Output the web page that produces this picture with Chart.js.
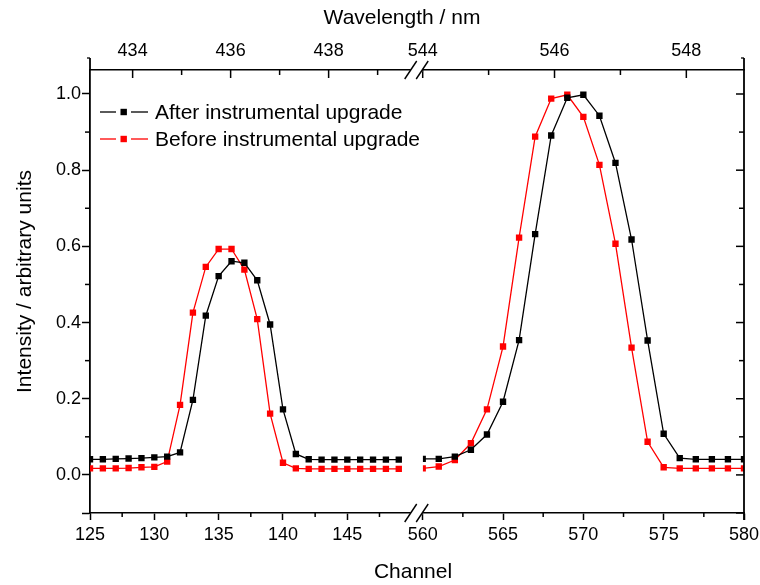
<!DOCTYPE html>
<html>
<head>
<meta charset="utf-8">
<script src="https://cdn.jsdelivr.net/npm/chart.js@4.4.1/dist/chart.umd.min.js"></script>
<style>
  html, body { margin: 0; padding: 0; background: #fff; }
  #wrap { width: 760px; height: 585px; }
</style>
</head>
<body>
<div id="wrap"><canvas id="spectrumChart"></canvas></div>
<script>
// Channels on each side of the axis break
const leftChannels = [125, 126, 127, 128, 129, 130, 131, 132, 133, 134, 135, 136, 137,
                      138, 139, 140, 141, 142, 143, 144, 145, 146, 147, 148, 149];
const rightChannels = [560, 561, 562, 563, 564, 565, 566, 567, 568, 569, 570,
                       571, 572, 573, 574, 575, 576, 577, 578, 579, 580];

const seriesNames = ['After instrumental upgrade', 'Before instrumental upgrade'];
const seriesColors = ['#000000', '#ff0000'];

// Normalised intensities
const afterLeft = [0.041, 0.041, 0.042, 0.043, 0.044, 0.046, 0.048, 0.059, 0.197, 0.418, 0.522, 0.561, 0.557,
                   0.511, 0.395, 0.172, 0.055, 0.041, 0.040, 0.040, 0.040, 0.040, 0.040, 0.040, 0.040];
const beforeLeft = [0.017, 0.017, 0.017, 0.018, 0.020, 0.021, 0.035, 0.184, 0.426, 0.546, 0.593, 0.593, 0.539,
                    0.409, 0.161, 0.032, 0.017, 0.016, 0.016, 0.016, 0.016, 0.016, 0.016, 0.016, 0.016];
const afterRight = [0.042, 0.042, 0.048, 0.066, 0.106, 0.192, 0.354, 0.632, 0.891, 0.990, 0.998,
                    0.943, 0.819, 0.618, 0.353, 0.108, 0.044, 0.041, 0.041, 0.041, 0.041];
const beforeRight = [0.017, 0.022, 0.039, 0.083, 0.172, 0.337, 0.623, 0.888, 0.988, 0.998, 0.940,
                     0.814, 0.607, 0.334, 0.087, 0.020, 0.017, 0.017, 0.017, 0.017, 0.017];

// Tick positions
const leftChTicks = [125, 130, 135, 140, 145];
const rightChTicks = [560, 565, 570, 575, 580];
const leftChMinor = [127.5, 132.5, 137.5, 142.5, 147.5];
const rightChMinor = [562.5, 567.5, 572.5, 577.5];
const leftNmTicks = [434, 436, 438];
const rightNmTicks = [544, 546, 548];
const leftNmMinor = [435, 437, 439];
const rightNmMinor = [545, 547];
const yTicks = [-0.1, 0, 0.2, 0.4, 0.6, 0.8, 1.0];
const yMinor = [0.1, 0.3, 0.5, 0.7, 0.9];

const FONT = "'Liberation Sans', Arial, sans-serif";

function points(xs, ys) {
    return xs.map((x, i) => ({ x: x, y: ys[i] }));
}

function fixedTicks(list) {
    return scale => { scale.ticks = list.map(v => ({ value: v })); };
}

function bottomAxis(min, max, ticks, weight) {
    return {
        type: 'linear', position: 'bottom', stack: 'bottom', stackWeight: weight,
        min: min, max: max,
        afterBuildTicks: fixedTicks(ticks),
        afterFit: s => { s.height = 72; s.paddingLeft = 0; s.paddingRight = 0; },
        grid: { drawOnChartArea: false, tickLength: 7, tickWidth: 1.5, tickColor: '#000' },
        border: { display: true, color: '#000', width: 1.6 },
        ticks: {
            autoSkip: false, maxRotation: 0, padding: 4, color: '#000',
            font: { family: FONT, size: 18 },
            callback: v => String(v)
        }
    };
}

function topAxis(min, max, ticks, weight) {
    return {
        type: 'linear', axis: 'x', position: 'top', stack: 'top', stackWeight: weight,
        min: min, max: max,
        afterBuildTicks: fixedTicks(ticks),
        afterFit: s => { s.height = 70; s.paddingLeft = 0; s.paddingRight = 0; },
        grid: { drawOnChartArea: false, drawTicks: false },
        border: { display: true, color: '#000', width: 1.6 },
        ticks: {
            autoSkip: false, maxRotation: 0, padding: 8, color: '#000',
            font: { family: FONT, size: 18 },
            callback: v => String(v)
        }
    };
}

function lineSet(label, color, data, xAxis) {
    return {
        label: label, data: data, xAxisID: xAxis, yAxisID: 'y',
        borderColor: color, backgroundColor: color, borderWidth: 1.3,
        pointStyle: 'rect', pointRadius: 4.5, pointBorderWidth: 0,
        pointBackgroundColor: color, tension: 0, fill: false
    };
}

// Minor ticks, right/top inward ticks, break marks, titles and legend
const spectrumDecor = {
    id: 'spectrumDecor',
    beforeDatasetDraw(chart, args) {
        // keep each segment inside its own half of the broken axis
        const xs = chart.scales[args.meta.xAxisID];
        const a = chart.chartArea;
        chart.ctx.save();
        chart.ctx.beginPath();
        chart.ctx.rect(xs.left, a.top, xs.right - xs.left, a.bottom - a.top);
        chart.ctx.clip();
    },
    afterDatasetDraw(chart) {
        chart.ctx.restore();
    },
    afterDraw(chart) {
        const ctx = chart.ctx;
        const a = chart.chartArea;
        const s = chart.scales;
        ctx.save();
        ctx.strokeStyle = '#000';
        ctx.fillStyle = '#000';
        ctx.lineWidth = 1.5;

        function seg(x1, y1, x2, y2) {
            ctx.beginPath();
            ctx.moveTo(x1, y1);
            ctx.lineTo(x2, y2);
            ctx.stroke();
        }

        // bottom minor ticks (outward)
        leftChMinor.forEach(v => { const x = s.xL.getPixelForValue(v); seg(x, a.bottom, x, a.bottom + 4); });
        rightChMinor.forEach(v => { const x = s.xR.getPixelForValue(v); seg(x, a.bottom, x, a.bottom + 4); });

        // top ticks (inward)
        leftNmTicks.forEach(v => { const x = s.tL.getPixelForValue(v); seg(x, a.top, x, a.top + 8); });
        rightNmTicks.forEach(v => { const x = s.tR.getPixelForValue(v); seg(x, a.top, x, a.top + 8); });
        leftNmMinor.forEach(v => { const x = s.tL.getPixelForValue(v); seg(x, a.top, x, a.top + 5); });
        rightNmMinor.forEach(v => { const x = s.tR.getPixelForValue(v); seg(x, a.top, x, a.top + 5); });

        // left minor ticks (outward), right axis with inward ticks
        yMinor.forEach(v => { const y = s.y.getPixelForValue(v); seg(a.left - 5, y, a.left, y); });
        yTicks.forEach(v => { const y = s.y.getPixelForValue(v); seg(a.right - 8, y, a.right, y); });
        yMinor.forEach(v => { const y = s.y.getPixelForValue(v); seg(a.right - 5, y, a.right, y); });
        ctx.lineWidth = 1.8;
        seg(a.right, a.top - 12, a.right, a.bottom + 7);
        seg(a.left, a.top - 12, a.left, a.top);
        ctx.lineWidth = 1.3;
        seg(a.left - 3, a.top - 12, a.left, a.top - 12);
        seg(a.right - 3, a.top - 12, a.right, a.top - 12);

        // axis break marks
        const bx1 = s.xR.left - 12, bx2 = s.xR.left - 0.5;
        [a.top, a.bottom].forEach(y => {
            ctx.fillStyle = '#fff';
            ctx.fillRect(bx1, y - 2, bx2 - bx1, 4);
            ctx.lineWidth = 1.4;
            seg(bx1 - 6, y + 9, bx1 + 6, y - 9);
            seg(bx2 - 6, y + 9, bx2 + 6, y - 9);
        });

        // axis titles
        ctx.fillStyle = '#000';
        ctx.font = '21px ' + FONT;
        ctx.textAlign = 'center';
        ctx.textBaseline = 'middle';
        const cx = (a.left + a.right) / 2;
        ctx.fillText('Wavelength / nm', cx - 15, 18);
        ctx.fillText('Channel', cx - 4, a.bottom + 59);
        ctx.save();
        ctx.translate(25, (a.top + a.bottom) / 2 - 10);
        ctx.rotate(-Math.PI / 2);
        ctx.fillText('Intensity / arbitrary units', 0, 0);
        ctx.restore();

        // legend
        ctx.textAlign = 'left';
        seriesNames.forEach((name, i) => {
            const y = a.top + 42 + i * 27;
            const x0 = a.left + 10;
            ctx.strokeStyle = seriesColors[i];
            ctx.fillStyle = seriesColors[i];
            ctx.lineWidth = 1.3;
            seg(x0, y, x0 + 16, y);
            seg(x0 + 31, y, x0 + 48, y);
            ctx.fillRect(x0 + 20.5, y - 3.2, 6.4, 6.4);
            ctx.fillStyle = '#000';
            ctx.fillText(name, x0 + 55, y + 1);
        });
        ctx.restore();
    }
};

new Chart('spectrumChart', {
    type: 'line',
    data: {
        datasets: [
            lineSet(seriesNames[0], seriesColors[0], points(leftChannels, afterLeft), 'xL'),
            lineSet(seriesNames[0], seriesColors[0], points(rightChannels, afterRight), 'xR'),
            lineSet(seriesNames[1], seriesColors[1], points(leftChannels, beforeLeft), 'xL'),
            lineSet(seriesNames[1], seriesColors[1], points(rightChannels, beforeRight), 'xR')
        ]
    },
    options: {
        responsive: true,
        maintainAspectRatio: false,
        animation: false,
        events: [],
        layout: { padding: { left: 0, right: 16, top: 0, bottom: 0 } },
        plugins: { legend: { display: false }, tooltip: { enabled: false } },
        scales: {
            xL: bottomAxis(125, 150.86, leftChTicks, 332.7),
            xR: bottomAxis(560, 580, rightChTicks, 321.3),
            // top boxes are laid out in reverse order, so the right half comes first
            tR: topAxis(544, 548.875, rightNmTicks, 321.3),
            tL: topAxis(433.13, 439.92, leftNmTicks, 332.7),
            y: {
                type: 'linear', position: 'left', min: -0.1, max: 1.063,
                afterBuildTicks: fixedTicks(yTicks),
                afterFit: s => { s.width = 90; s.paddingTop = 0; s.paddingBottom = 0; },
                grid: { drawOnChartArea: false, tickLength: 8, tickWidth: 1.5, tickColor: '#000' },
                border: { display: true, color: '#000', width: 1.8 },
                ticks: {
                    padding: 1, color: '#000',
                    font: { family: FONT, size: 18 },
                    callback: v => v < -0.05 ? '' : v.toFixed(1)
                }
            }
        }
    },
    plugins: [spectrumDecor]
});
</script>
</body>
</html>
